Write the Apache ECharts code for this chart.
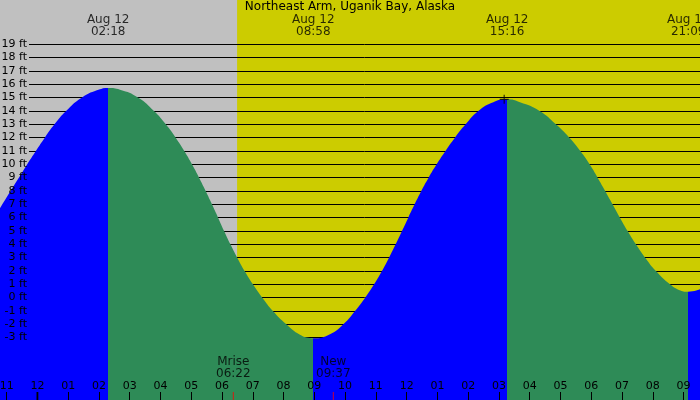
<!DOCTYPE html>
<html><head><meta charset="utf-8">
<script src="https://cdn.jsdelivr.net/npm/echarts@6/dist/echarts.min.js"></script>
<style>html,body{margin:0;padding:0;background:#c0c0c0}#c{width:700px;height:400px}</style>
</head><body><div id="c"></div>
<script>
// ---- data ----
const chartTitle = 'Northeast Arm, Uganik Bay, Alaska';
// hours since midnight Aug 12 (negative = Aug 11), heights in feet
const tideHours = [-1.2155, -0.33, -0.05, 0.24, 0.555, 0.932, 1.44, 2.034, 2.30,
  2.684, 3.279, 3.789, 4.174, 4.494, 4.774, 5.024, 5.254, 5.469, 5.674, 5.872, 6.068, 6.273, 6.495, 6.735, 7.005, 7.310, 7.655, 8.090, 8.534, 8.859, 8.967,
  9.509, 9.942, 10.322, 10.652, 10.942, 11.197, 11.427, 11.642, 11.849, 12.052, 12.259, 12.476, 12.713, 12.975, 13.262, 13.569, 13.916, 14.329, 14.816, 15.267,
  15.684, 16.32, 16.85, 17.29, 17.645, 17.947, 18.207, 18.452, 18.692, 18.932, 19.182, 19.452, 19.752, 20.102, 20.559, 20.85, 21.15, 21.534];
const tideFeet = [6.7, 10, 11, 12, 13, 14, 15, 15.62, 15.72,
  15.6, 15, 14, 13, 12, 11, 10, 9, 8, 7, 6, 5, 4, 3, 2, 1, 0, -1, -2, -2.79, -3.03, -3.05,
  -2.74, -2, -1, 0, 1, 2, 3, 4, 5, 6, 7, 8, 9, 10, 11, 12, 13, 14, 14.65, 14.87,
  14.65, 14, 13, 12, 11, 10, 9, 8, 7, 6, 5, 4, 3, 2, 1, 0.58, 0.44, 0.62];
const extremeHours = [2.30, 8.967, 15.267, 21.15];
const extremeTypes = ['H', 'L', 'H', 'L'];
const extremeDates = ['Aug 12', 'Aug 12', 'Aug 12', 'Aug 12'];
const extremeTimes = ['02:18', '08:58', '15:16', '21:09'];
const moonHours = [6.367, 9.617];
const moonNames = ['Mrise', 'New'];
const moonTimes = ['06:22', '09:37'];
const sunriseHour = 6.49;
const sunsetHour = 22.1;
const nowHour = 15.17;
const nowFeet = 14.87;
const hourTickValues = [-2,-1,0,1,2,3,4,5,6,7,8,9,10,11,12,13,14,15,16,17,18,19,20,21,22];
const hourTickLabels = ['10','11','12','01','02','03','04','05','06','07','08','09','10','11','12','01','02','03','04','05','06','07','08','09','10'];
const feetMin = -3;
const feetMax = 19;

// ---- layout ----
const W = 700, H = 400;
const X0 = 37.4, PXH = 30.77;       // pixel of hour 0, pixels per hour
const Y19 = 44.3, PXF = 13.333;     // pixel of feetMax, pixels per foot
const xMin = hourTickValues[0], xMax = hourTickValues[hourTickValues.length - 1];
const gridLeft = X0 + xMin * PXH;
const gridRight = W - (X0 + xMax * PXH);
const yTop = feetMax + Y19 / PXF;
const yBottom = feetMax - (H - Y19) / PXF;
const yAt = px => feetMax - (px - Y19) / PXF;
const FONT = 'DejaVu Sans';
const BLUE = '#0000ff', GREEN = '#2e8b57', YELLOW = '#cccc00', GREY = '#c0c0c0';

// rising (blue) / falling (green) pieces from the extremes
const pieces = [];
let prev = null;
extremeHours.forEach((h, i) => {
  const col = extremeTypes[i] === 'H' ? BLUE : GREEN;
  const p = { color: col, lt: h };
  if (prev !== null) p.gte = prev;
  pieces.push(p);
  prev = h;
});
pieces.push({ gte: prev, color: extremeTypes[extremeTypes.length - 1] === 'H' ? GREEN : BLUE });

const chart = echarts.init(document.getElementById('c'), null, { renderer: 'canvas' });
chart.setOption({
  backgroundColor: GREY,
  animation: false,
  title: {
    text: chartTitle, left: 'center', top: 1, padding: 0,
    textStyle: { fontSize: 12, fontWeight: 'normal', color: '#000', fontFamily: FONT }
  },
  grid: [
    { left: gridLeft, right: gridRight, top: 0, bottom: 0, containLabel: false, outerBoundsMode: 'none' },
    { left: 29, right: 0, top: Y19, height: (feetMax - feetMin) * PXF, containLabel: false, outerBoundsMode: 'none' }
  ],
  xAxis: [
    {
      type: 'value', gridIndex: 0, min: xMin, max: xMax, interval: 1, z: 3, position: 'bottom',
      axisLine: { show: false, onZero: false },
      splitLine: { show: false },
      axisTick: { show: true, inside: true, length: 8, lineStyle: { color: '#000', width: 1 } },
      axisLabel: {
        show: true, inside: true, margin: 8, color: '#000', fontSize: 11, fontFamily: FONT,
        formatter: v => hourTickLabels[hourTickValues.indexOf(v)]
      }
    },
    { type: 'value', gridIndex: 1, min: xMin, max: xMax, show: false, axisLine: { onZero: false } }
  ],
  yAxis: [
    { type: 'value', gridIndex: 0, min: yBottom, max: yTop, show: false, axisLine: { onZero: false } },
    {
      type: 'value', gridIndex: 1, min: feetMin, max: feetMax, interval: 1, position: 'right', z: 1,
      axisLine: { show: false, onZero: false }, axisTick: { show: false }, axisLabel: { show: false },
      splitLine: { show: true, lineStyle: { color: '#000', width: 1 } }
    },
    {
      type: 'value', gridIndex: 1, min: feetMin, max: feetMax, interval: 1, position: 'left', z: 3,
      axisLine: { show: false, onZero: false }, axisTick: { show: false }, splitLine: { show: false },
      axisLabel: { show: true, margin: 2, color: '#000', fontSize: 11, fontFamily: FONT, formatter: '{value} ft' }
    }
  ],
  visualMap: {
    type: 'piecewise', show: false, dimension: 0, seriesIndex: 1, pieces: pieces
  },
  series: [
    {
      name: 'day', type: 'line', xAxisIndex: 0, yAxisIndex: 0, z: 0, silent: true,
      data: [[sunriseHour, yTop], [sunsetHour, yTop]],
      symbol: 'none', lineStyle: { width: 0 },
      areaStyle: { color: YELLOW, opacity: 1, origin: 'start' }
    },
    {
      name: 'tide', type: 'line', xAxisIndex: 0, yAxisIndex: 0, z: 2, silent: true,
      data: tideHours.map((h, i) => [h, tideFeet[i]]),
      smooth: 0.5, symbol: 'none', lineStyle: { width: 0 },
      areaStyle: { opacity: 1, origin: 'start' }
    },
    {
      name: 'extremeLabels', type: 'scatter', xAxisIndex: 0, yAxisIndex: 0, z: 5, silent: true,
      symbolSize: 1, itemStyle: { color: 'rgba(0,0,0,0)' },
      data: extremeHours.map((h, i) => ({ value: [h, yAt(25.6)], label: { formatter: extremeDates[i] + '\n' + extremeTimes[i] } })),
      label: { show: true, position: 'inside', color: '#000', fontSize: 12, lineHeight: 12, fontFamily: FONT }
    },
    {
      name: 'moonLabels', type: 'scatter', xAxisIndex: 0, yAxisIndex: 0, z: 5, silent: true,
      symbolSize: 1, itemStyle: { color: 'rgba(0,0,0,0)' },
      data: moonHours.map((h, i) => ({ value: [h, yAt(367.5)], label: { formatter: moonNames[i] + '\n' + moonTimes[i] } })),
      label: { show: true, position: 'inside', color: '#000', fontSize: 12, lineHeight: 12, fontFamily: FONT }
    },
    {
      name: 'moonTicks', type: 'scatter', xAxisIndex: 0, yAxisIndex: 0, z: 5, silent: true,
      symbol: 'rect', symbolSize: [1, 8], itemStyle: { color: '#ff0000' },
      data: moonHours.map(h => [h, yAt(396)])
    },
    {
      name: 'midnightTick', type: 'scatter', xAxisIndex: 0, yAxisIndex: 0, z: 5, silent: true,
      symbol: 'rect', symbolSize: [2, 8], itemStyle: { color: '#000' },
      data: [[0, yAt(396)]]
    },
    {
      name: 'now', type: 'scatter', xAxisIndex: 0, yAxisIndex: 0, z: 5, silent: true,
      symbol: 'path://M3.5,0h1v3.5h3.5v1h-3.5v3.5h-1v-3.5h-3.5v-1h3.5z', symbolSize: 9,
      itemStyle: { color: '#000' },
      data: [[nowHour, nowFeet]]
    }
  ]
});
</script>
</body></html>
